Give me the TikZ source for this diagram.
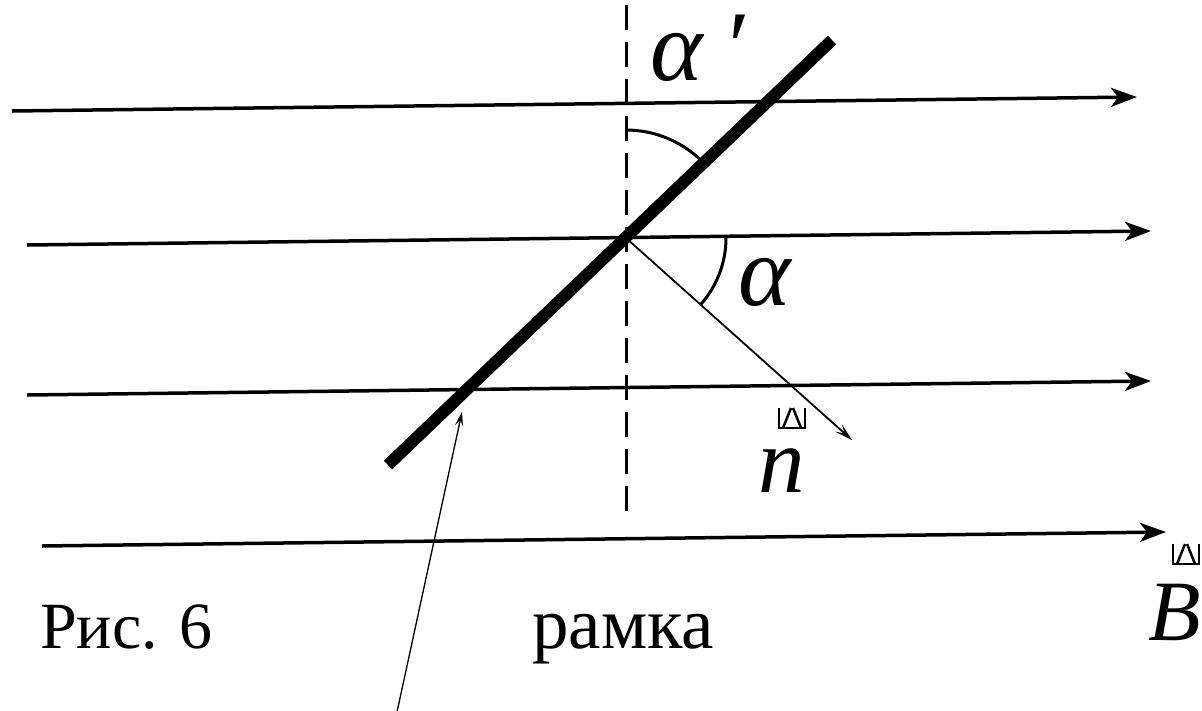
\documentclass[tikz,border=0pt]{standalone}
\usepackage{fontspec}
\setmainfont{Liberation Serif}
\usetikzlibrary{arrows.meta, calc}

\begin{document}
\begin{tikzpicture}[
    x=1pt, y=-1pt,
    fieldline/.style={line width=3.5pt, -{Stealth[length=26pt, width=19pt, inset=7pt]}},
    framebar/.style={line width=12pt},
    axisline/.style={line width=3pt, dash pattern=on 25pt off 12pt},
    normalvec/.style={line width=1.8pt, -{Stealth[length=18pt, width=10pt, inset=8pt]}},
    pointer/.style={line width=1.3pt, -{Stealth[length=14pt, width=8pt, inset=6pt]}},
    anglearc/.style={line width=3pt},
    caption/.style={font=\fontsize{#1}{#1}\selectfont, inner sep=0pt, anchor=base west},
    caption/.default=66,
    symbol/.style={font=\itshape\fontsize{#1}{#1}\selectfont, inner sep=0pt, anchor=base west},
    symbol/.default=100,
    badacc/.pic={
        \draw[line width=2.5pt] (-13,-10) -- (-13,10) -- (13,10) -- (13,-10);
        \draw[line width=2.5pt] (-9,10) -- (-1,-10) (1,-10) -- (9,10);
    }
]
\useasboundingbox (0,0) rectangle (1202,710);
\clip (0,0) rectangle (1202,710);

% Field lines B
\coordinate (f1s) at (12,111);  \coordinate (f1e) at (1137,97);
\coordinate (f2s) at (27,245);  \coordinate (f2e) at (1151,231);
\coordinate (f3s) at (27,395);  \coordinate (f3e) at (1151,381);
\coordinate (f4s) at (42,546);  \coordinate (f4e) at (1166,532);
\draw[fieldline] (f1s) -- (f1e);
\draw[fieldline] (f2s) -- (f2e);
\draw[fieldline] (f3s) -- (f3e);
\draw[fieldline] (f4s) -- (f4e);

% Axis and frame
\coordinate (o) at (626,238);
\coordinate (ax1) at (626,5);
\coordinate (ax2) at (626,515);
\draw[axisline] (ax1) -- (ax2);
\coordinate (fr1) at (388,465);
\coordinate (fr2) at (832,40);
\draw[framebar] (fr1) -- (fr2);

% Normal vector
\coordinate (ntip) at (852,440);
\draw[normalvec] (o) -- (ntip);

% Angles
\draw[anglearc] (o) ++(-0.7:100) arc[start angle=-0.7, end angle=41.8, radius=100];
\draw[anglearc] (o) ++(-90:108) arc[start angle=-90, end angle=-43.7, radius=108];

% Labels
\node[symbol] (alp1) at (650,80) {α\kern20pt′};
\node[symbol] (alp) at (738,305) {α};
\node[symbol=93] (nvec) at (758,492) {n};
\pic at (792,418) {badacc};
\node[symbol=86] (bvec) at (1148,640) {B};
\pic at (1186,554) {badacc};

\node[caption] (fig) at (40,648) {Рис. 6};
\node[caption=73] (ramka) at (532,648) {рамка};
\coordinate (ptail) at (397,712);
\coordinate (ptip) at (462,412);
\draw[pointer] (ptail) -- (ptip);

\end{tikzpicture}
\end{document}
